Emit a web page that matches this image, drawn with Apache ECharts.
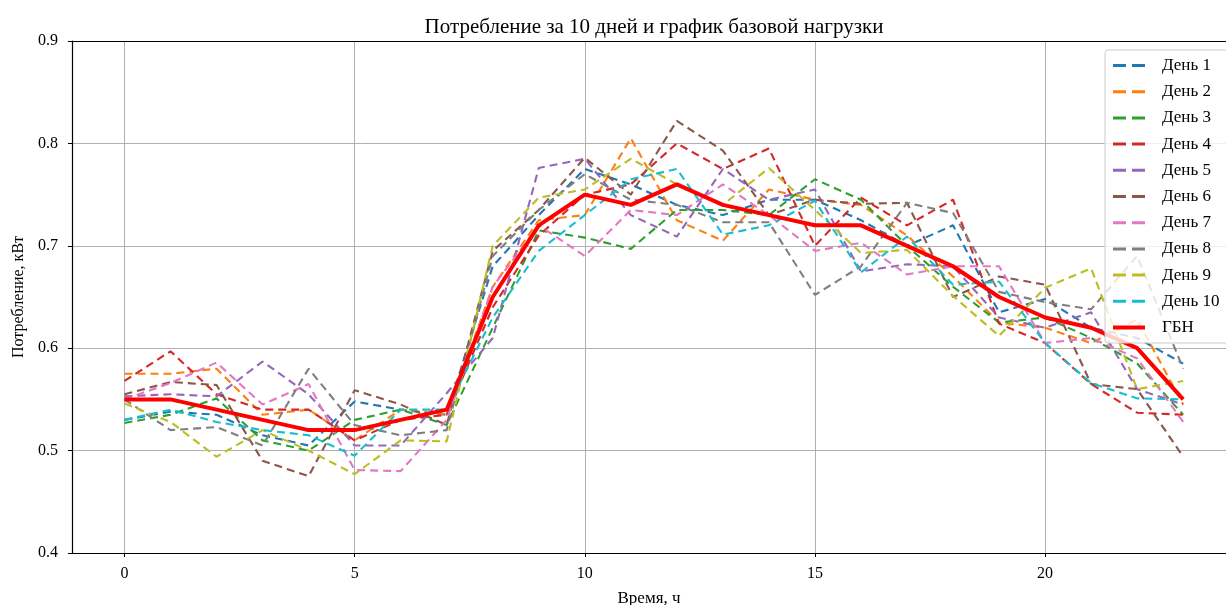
<!DOCTYPE html>
<html>
<head>
<meta charset="utf-8">
<script src="https://cdn.jsdelivr.net/npm/echarts@6/dist/echarts.min.js"></script>
<style>
  html, body { margin: 0; padding: 0; background: #fff; }
  #chart { width: 1226px; height: 605px; }
</style>
</head>
<body>
<div id="chart"></div>
<script>
// часы суток
var hours = [0, 1, 2, 3, 4, 5, 6, 7, 8, 9, 10, 11, 12, 13, 14, 15, 16, 17, 18, 19, 20, 21, 22, 23];

// потребление по дням, кВт
var day1 = [0.530, 0.538, 0.535, 0.515, 0.505, 0.548, 0.540, 0.535, 0.680, 0.730, 0.775, 0.760, 0.740, 0.730, 0.745, 0.745, 0.725, 0.700, 0.720, 0.635, 0.648, 0.620, 0.610, 0.585];
var day2 = [0.575, 0.575, 0.580, 0.535, 0.540, 0.510, 0.540, 0.535, 0.660, 0.725, 0.730, 0.805, 0.725, 0.705, 0.755, 0.745, 0.740, 0.710, 0.670, 0.625, 0.620, 0.605, 0.628, 0.545];
var day3 = [0.527, 0.535, 0.551, 0.510, 0.500, 0.530, 0.540, 0.525, 0.620, 0.715, 0.708, 0.697, 0.735, 0.735, 0.730, 0.765, 0.745, 0.700, 0.660, 0.625, 0.630, 0.610, 0.585, 0.535];
var day4 = [0.568, 0.597, 0.555, 0.540, 0.540, 0.510, 0.530, 0.535, 0.640, 0.710, 0.750, 0.760, 0.800, 0.775, 0.795, 0.700, 0.747, 0.720, 0.745, 0.624, 0.605, 0.565, 0.537, 0.535];
var day5 = [0.553, 0.555, 0.553, 0.587, 0.555, 0.505, 0.505, 0.556, 0.610, 0.776, 0.785, 0.730, 0.709, 0.775, 0.745, 0.755, 0.675, 0.682, 0.680, 0.630, 0.620, 0.635, 0.560, 0.545];
var day6 = [0.555, 0.567, 0.564, 0.490, 0.475, 0.559, 0.545, 0.525, 0.695, 0.735, 0.786, 0.750, 0.822, 0.793, 0.730, 0.745, 0.741, 0.742, 0.650, 0.670, 0.662, 0.565, 0.560, 0.494];
var day7 = [0.550, 0.566, 0.586, 0.545, 0.565, 0.481, 0.480, 0.530, 0.660, 0.720, 0.690, 0.735, 0.730, 0.760, 0.730, 0.695, 0.703, 0.672, 0.680, 0.680, 0.605, 0.610, 0.590, 0.528];
var day8 = [0.550, 0.520, 0.523, 0.505, 0.580, 0.525, 0.515, 0.520, 0.690, 0.735, 0.770, 0.745, 0.740, 0.723, 0.723, 0.652, 0.680, 0.742, 0.732, 0.655, 0.645, 0.638, 0.690, 0.580];
var day9 = [0.546, 0.528, 0.494, 0.520, 0.500, 0.477, 0.510, 0.509, 0.700, 0.747, 0.755, 0.785, 0.760, 0.740, 0.776, 0.735, 0.693, 0.696, 0.651, 0.612, 0.659, 0.678, 0.560, 0.568];
var day10 = [0.530, 0.540, 0.528, 0.520, 0.515, 0.495, 0.540, 0.540, 0.630, 0.695, 0.730, 0.765, 0.775, 0.711, 0.720, 0.744, 0.674, 0.709, 0.662, 0.665, 0.605, 0.566, 0.551, 0.550];

// график базовой нагрузки
var gbn = [0.550, 0.550, 0.540, 0.530, 0.520, 0.520, 0.530, 0.540, 0.650, 0.720, 0.750, 0.740, 0.760, 0.740, 0.730, 0.720, 0.720, 0.700, 0.680, 0.650, 0.630, 0.620, 0.600, 0.550];

var days = [day1, day2, day3, day4, day5, day6, day7, day8, day9, day10];
var dayNames = ["День 1", "День 2", "День 3", "День 4", "День 5", "День 6", "День 7", "День 8", "День 9", "День 10"];
var xTicks = [0, 5, 10, 15, 20];

var colors = ["#1f77b4", "#ff7f0e", "#2ca02c", "#d62728", "#9467bd",
              "#8c564b", "#e377c2", "#7f7f7f", "#bcbd22", "#17becf"];

var font = "'Liberation Serif', 'DejaVu Serif', serif";
var xMin = -1.14, xMax = 23.93;

// значок легенды: две черточки
var dashIcon = "path://M0,0 h13 v3 h-13 z M19,0 h13 v3 h-13 z";

function pairs(arr) {
  return hours.map(function (h, i) { return [h, arr[i]]; });
}

var series = days.map(function (d, k) {
  return {
    name: dayNames[k],
    type: "line",
    data: pairs(d),
    symbol: "none",
    color: colors[k],
    lineStyle: { width: 2.1, type: [8, 5], color: colors[k] },
    z: 2,
    animation: false
  };
});
series.push({
  name: "ГБН",
  type: "line",
  data: pairs(gbn),
  symbol: "none",
  color: "#ff0000",
  lineStyle: { width: 4, color: "#ff0000" },
  z: 3,
  animation: false
});

var legendData = dayNames.map(function (n) { return { name: n, icon: dashIcon }; });
legendData.push({ name: "ГБН", icon: "rect" });

var option = {
  backgroundColor: "#fff",
  textStyle: { fontFamily: font },
  title: {
    text: "Потребление за 10 дней и график базовой нагрузки",
    left: 649,
    textAlign: "center",
    top: 12,
    textStyle: { fontFamily: font, fontSize: 21, fontWeight: "normal", color: "#000" }
  },
  legend: {
    orient: "vertical",
    left: 1105,
    top: 50,
    itemWidth: 32,
    itemHeight: 4,
    itemGap: 9.2,
    padding: [7, 30, 7, 8],
    backgroundColor: "rgba(255,255,255,0.8)",
    borderColor: "#cccccc",
    borderWidth: 1,
    borderRadius: 3,
    textStyle: { fontFamily: font, fontSize: 17, color: "#000", padding: [0, 0, 0, 12] },
    data: legendData
  },
  grid: { left: 72, right: 0, top: 41, bottom: 52, containLabel: false, outerBoundsMode: "none" },
  xAxis: [{
    type: "value",
    min: xMin,
    max: xMax,
    name: "Время, ч",
    nameLocation: "middle",
    nameGap: 37,
    nameTextStyle: { fontFamily: font, fontSize: 17, color: "#000" },
    axisLine: { onZero: false, lineStyle: { color: "#000", width: 1.2 } },
    axisTick: { customValues: xTicks, length: 4, lineStyle: { color: "#000" } },
    axisLabel: { customValues: xTicks, fontFamily: font, fontSize: 16, color: "#000", margin: 13 },
    splitLine: { show: true, lineStyle: { color: "#b0b0b0", width: 1 } }
  }, {
    type: "value",
    position: "top",
    min: xMin,
    max: xMax,
    axisLine: { show: true, onZero: false, lineStyle: { color: "#000", width: 1.2 } },
    axisTick: { show: false },
    axisLabel: { show: false },
    splitLine: { show: false }
  }],
  yAxis: {
    type: "value",
    min: 0.4,
    max: 0.9,
    interval: 0.1,
    name: "Потребление, кВт",
    nameLocation: "middle",
    nameGap: 45,
    nameTextStyle: { fontFamily: font, fontSize: 16, color: "#000" },
    axisLine: { show: true, onZero: false, lineStyle: { color: "#000", width: 1.2 } },
    axisTick: { show: true, length: 4, lineStyle: { color: "#000" } },
    axisLabel: {
      fontFamily: font, fontSize: 16, color: "#000", margin: 14,
      formatter: function (v) { return v.toFixed(1); }
    },
    splitLine: { show: true, lineStyle: { color: "#b0b0b0", width: 1 } }
  },
  series: series
};

var myChart = echarts.init(document.getElementById("chart"));
myChart.setOption(option);
</script>
</body>
</html>
